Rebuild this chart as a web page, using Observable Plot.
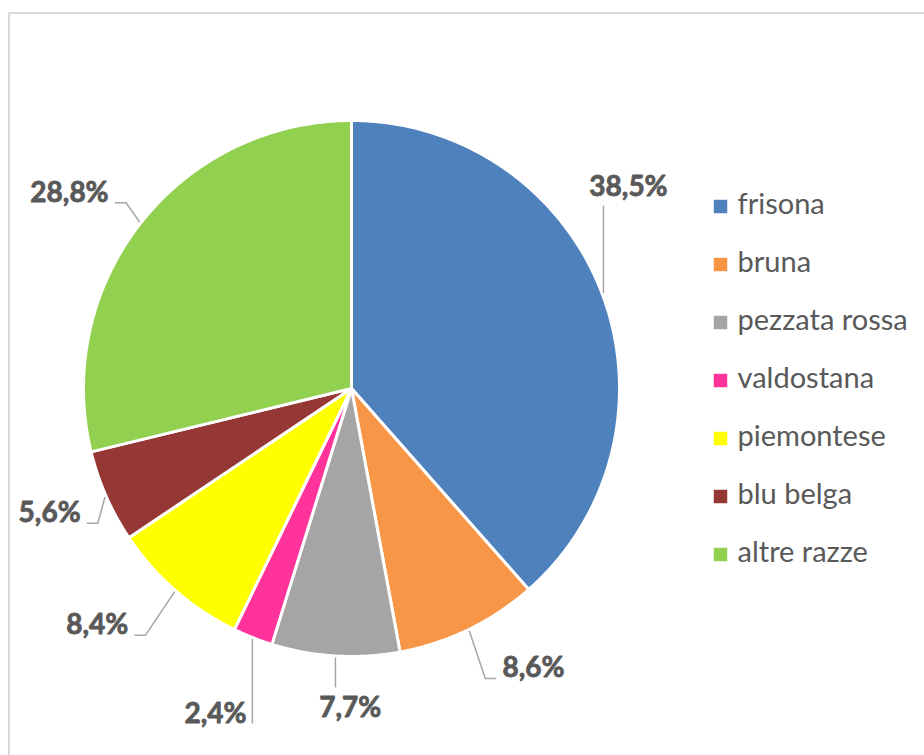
<!DOCTYPE html>
<html><head><meta charset="utf-8">
<script src="https://cdn.jsdelivr.net/npm/d3@7"></script>
<script src="https://cdn.jsdelivr.net/npm/@observablehq/plot@0.6"></script>
<style>
html,body{margin:0;padding:0;background:#fff;overflow:hidden}
#wrap{position:relative;width:924px;height:755px;overflow:hidden;font-family:Lato,"Open Sans",sans-serif}
#frame{position:absolute;left:8px;top:12px;width:1000px;height:1000px;border:2px solid #D9D9D9;box-sizing:border-box}
#pie{position:absolute;left:0;top:0}
#legend{position:absolute;left:700px;top:174px}
</style></head><body>
<div id="wrap"><div id="frame"></div><div id="pie"></div><div id="legend"></div></div>
<script>
// ---- data ----
const breeds = ["frisona", "bruna", "pezzata rossa", "valdostana", "piemontese", "blu belga", "altre razze"];
const shares = [38.5, 8.6, 7.7, 2.4, 8.4, 5.6, 28.8];
const colors = ["#4F81BD", "#F79646", "#A5A5A5", "#FF3399", "#FFFF00", "#953735", "#92D050"];

// ---- layout (label placement, Excel-like) ----
const CX = 351, CY = 388, R = 268;
const labelShift = [-15.4, -7.1, -3.2, 1.1, 6.0, 1.3, -3.4]; // degrees from slice mid-angle
const labelDist = [1.279, 1.246, 1.194, 1.315, 1.296, 1.219, 1.281]; // in radii
const leaderMode = ["up", "side", "down", "side", "side", "side", "side"];
const FONT = "Lato";
const LABEL_SIZE = 28, LEGEND_SIZE = 29;
const LABEL_SPACING = 0.6, LEGEND_SPACING = 0.4;

const fmt = d3.formatLocale({decimal: ",", thousands: ".", grouping: [3], currency: ["", "€"]}).format(".1f");
const data = breeds.map((b, i) => ({name: b, share: shares[i]}));
const arcs = d3.pie().sort(null).value(d => d.share)(data);

// slice polygons in pie units
const slicePts = [];
arcs.forEach(a => {
  const n = Math.max(2, Math.ceil((a.endAngle - a.startAngle) / (Math.PI / 360)));
  slicePts.push({name: a.data.name, x: 0, y: 0});
  for (let k = 0; k <= n; k++) {
    const t = a.startAngle + (a.endAngle - a.startAngle) * k / n;
    slicePts.push({name: a.data.name, x: Math.sin(t), y: Math.cos(t)});
  }
  slicePts.push({name: a.data.name, x: 0, y: 0});
});

// labels and leaders
const ctx = document.createElement("canvas").getContext("2d");
ctx.font = `bold ${LABEL_SIZE}px ${FONT}`;
const labels = [], leaders = [];
const u = px => px / R; // pixels -> pie units
arcs.forEach((a, i) => {
  const mid = (a.startAngle + a.endAngle) / 2;
  const la = mid + labelShift[i] * Math.PI / 180;
  const lx = labelDist[i] * Math.sin(la), ly = labelDist[i] * Math.cos(la);
  const text = fmt(a.data.share) + "%";
  labels.push({name: a.data.name, x: lx, y: ly, text});
  const w = ctx.measureText(text).width + LABEL_SPACING * text.length;
  const p0 = {x: 1.005 * Math.sin(mid), y: 1.005 * Math.cos(mid)};
  const pts = [p0];
  const yb = ly - u(10);
  if (leaderMode[i] === "up") pts.push({x: p0.x, y: ly - u(19)});
  else if (leaderMode[i] === "down") pts.push({x: p0.x, y: ly + u(21)});
  else {
    const left = lx < p0.x;
    const ax = left ? lx + u(w / 2 + 5) : lx - u(w / 2 + 5);
    if (Math.abs(ax - p0.x) <= u(12)) pts.push({x: p0.x, y: yb});
    else {
      const ex = left ? ax + u(11) : ax - u(11);
      pts.push({x: ex, y: yb}, {x: ax, y: yb});
    }
  }
  pts.forEach(p => leaders.push({name: a.data.name, ...p}));
});

const color = {domain: breeds, range: colors};

const pie = Plot.plot({
  width: 924, height: 755, margin: 0,
  style: {fontFamily: FONT, background: "transparent", overflow: "visible"},
  x: {domain: [-1, 1], range: [CX - R, CX + R], axis: null},
  y: {domain: [-1, 1], range: [CY + R, CY - R], axis: null},
  color,
  marks: [
    Plot.line(slicePts, {x: "x", y: "y", z: "name", fill: "name", stroke: "white", strokeWidth: 3, strokeLinejoin: "round"}),
    Plot.line(leaders, {x: "x", y: "y", z: "name", stroke: "#A6A6A6", strokeWidth: 1.5, strokeLinejoin: "miter", strokeLinecap: "butt"}),
    Plot.text(labels, {x: "x", y: "y", text: "text", fontSize: LABEL_SIZE, fontWeight: "bold", fill: "#595959",
      stroke: "#595959", strokeWidth: 0.8, letterSpacing: LABEL_SPACING})
  ]
});
document.getElementById("pie").appendChild(pie);

const legend = Plot.plot({
  width: 224, height: 411, margin: 0,
  style: {fontFamily: FONT, background: "transparent", overflow: "visible"},
  y: {type: "point", domain: breeds, range: [0, 411], padding: 0.5, axis: null},
  color,
  marks: [
    Plot.dot(breeds, {y: d => d, fill: d => d, symbol: "square", r: 7.6, frameAnchor: "left", dx: 20}),
    Plot.text(breeds, {y: d => d, text: d => d, frameAnchor: "left", dx: 37, dy: -1.5, textAnchor: "start",
      fontSize: LEGEND_SIZE, fill: "#595959", letterSpacing: LEGEND_SPACING})
  ]
});
document.getElementById("legend").appendChild(legend);
</script>
</body></html>
